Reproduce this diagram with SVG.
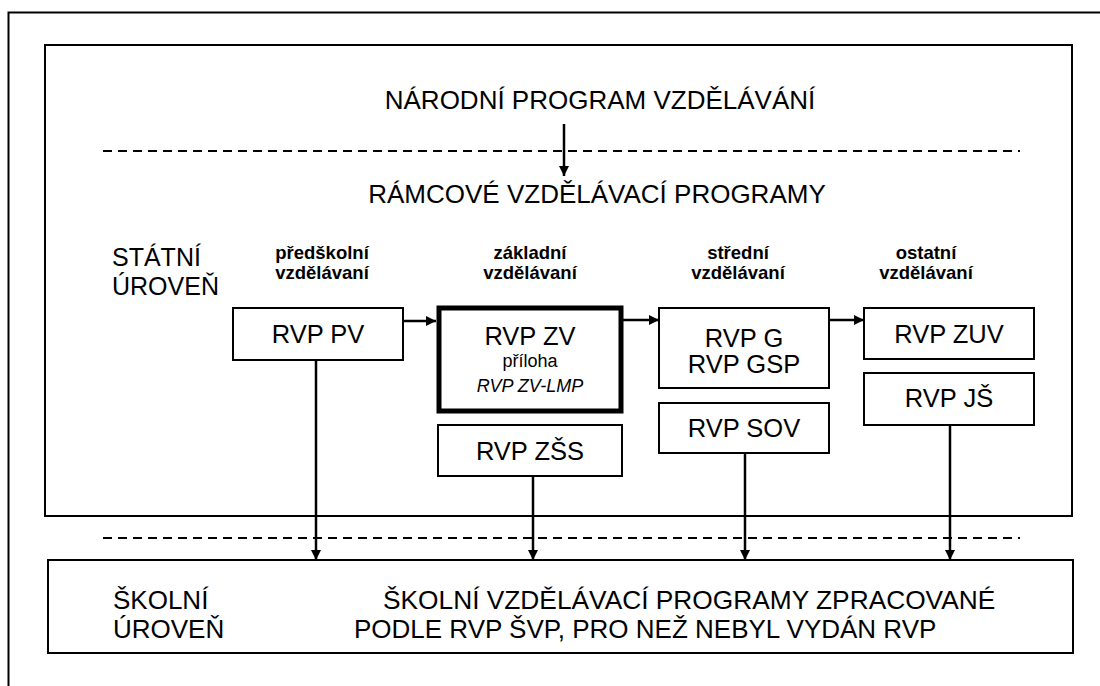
<svg xmlns="http://www.w3.org/2000/svg" width="1100" height="686" viewBox="0 0 1100 686">
<style>
text{font-family:"Liberation Sans",Arial,sans-serif;fill:#000}
.big{font-size:26px}
.box{font-size:25.5px;text-anchor:middle}
.lbl{font-size:18.5px;font-weight:bold;text-anchor:middle}
.sm{font-size:18px;text-anchor:middle}
.frame{fill:none;stroke:#000;stroke-width:2}
.node{fill:#fff;stroke:#000;stroke-width:2}
.dash{stroke:#000;stroke-width:2;stroke-dasharray:9 6;fill:none}
.conn{stroke:#000;stroke-width:2.5;fill:none;marker-end:url(#ah)}
</style>
<defs>
<marker id="ah" markerWidth="10" markerHeight="10" refX="10" refY="5" orient="auto" markerUnits="userSpaceOnUse">
<path d="M0,0 L10,5 L0,10 Z" fill="#000"/>
</marker>
</defs>
<rect width="1100" height="686" fill="#fff"/>
<path class="frame" d="M8.5,686 V12.5 H1100"/>
<g id="statni-uroven-frame"><rect class="frame" x="45" y="45" width="1027" height="471"/></g>
<g id="separators">
<line class="dash" x1="103" y1="151" x2="1020" y2="151"/>
<line class="dash" x1="103" y1="538" x2="1020" y2="538"/>
</g>
<g id="narodni"><text class="big" x="600" y="109" text-anchor="middle">NÁRODNÍ PROGRAM VZDĚLÁVÁNÍ</text></g>
<g id="ramcove"><text class="big" x="597" y="203" text-anchor="middle">RÁMCOVÉ VZDĚLÁVACÍ PROGRAMY</text></g>
<g id="statni"><text class="big" x="112" y="266" style="font-size:25px">STÁTNÍ</text><text class="big" x="112" y="295" style="font-size:25px">ÚROVEŇ</text></g>
<g id="col-labels">
<text class="lbl" x="322" y="259">předškolní</text><text class="lbl" x="322" y="279">vzdělávaní</text>
<text class="lbl" x="530" y="259">základní</text><text class="lbl" x="530" y="279">vzdělávaní</text>
<text class="lbl" x="738" y="259">střední</text><text class="lbl" x="738" y="279">vzdělávaní</text>
<text class="lbl" x="926" y="259">ostatní</text><text class="lbl" x="926" y="279">vzdělávaní</text>
</g>
<g id="rvp-pv"><rect class="node" x="233" y="308" width="170" height="52"/><text class="box" x="318" y="343">RVP PV</text></g>
<g id="rvp-zv"><rect class="node" x="439" y="308" width="182" height="103" style="stroke-width:5"/><text class="box" x="530" y="345">RVP ZV</text><text class="sm" x="530" y="367">příloha</text><text class="sm" x="530" y="392" font-style="italic">RVP ZV-LMP</text></g>
<g id="rvp-zss"><rect class="node" x="438" y="425" width="184" height="51"/><text class="box" x="530" y="460">RVP ZŠS</text></g>
<g id="rvp-g"><rect class="node" x="659" y="308" width="170" height="80"/><text class="box" x="744" y="347">RVP G</text><text class="box" x="744" y="373">RVP GSP</text></g>
<g id="rvp-sov"><rect class="node" x="659" y="403" width="170" height="50"/><text class="box" x="744" y="437">RVP SOV</text></g>
<g id="rvp-zuv"><rect class="node" x="864" y="308" width="170" height="51"/><text class="box" x="949" y="343">RVP ZUV</text></g>
<g id="rvp-js"><rect class="node" x="864" y="373" width="170" height="52"/><text class="box" x="949" y="407">RVP JŠ</text></g>
<g id="skolni"><rect class="node" x="48" y="560" width="1025" height="93"/>
<text class="big" x="113" y="609">ŠKOLNÍ</text><text class="big" x="113" y="638">ÚROVEŇ</text>
<text class="big" x="383" y="609" style="font-size:26.3px">ŠKOLNÍ VZDĚLÁVACÍ PROGRAMY ZPRACOVANÉ</text>
<text class="big" x="354" y="638">PODLE RVP ŠVP, PRO NEŽ NEBYL VYDÁN RVP</text></g>
<g id="connectors">
<line class="conn" x1="564" y1="124" x2="564" y2="176"/>
<line class="conn" x1="403" y1="321" x2="436" y2="321"/>
<line class="conn" x1="623" y1="320" x2="659" y2="320"/>
<line class="conn" x1="829" y1="320" x2="864" y2="320"/>
<line class="conn" x1="316" y1="360" x2="316" y2="560"/>
<line class="conn" x1="533" y1="476" x2="533" y2="560"/>
<line class="conn" x1="745" y1="453" x2="745" y2="560"/>
<line class="conn" x1="950" y1="425" x2="950" y2="560"/>
</g>
</svg>
